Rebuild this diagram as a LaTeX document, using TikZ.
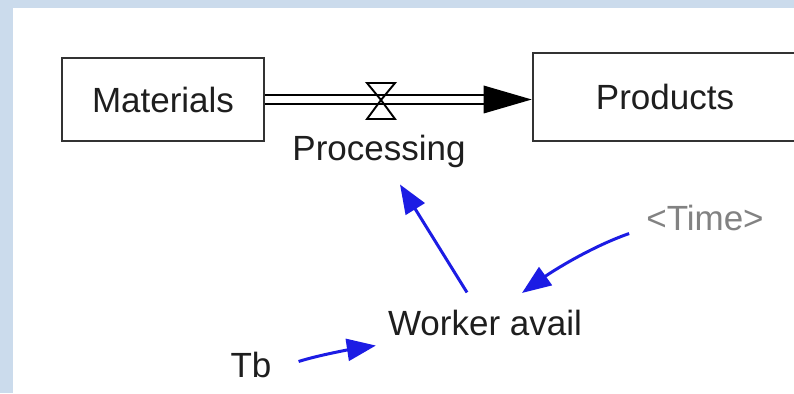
\documentclass[tikz,border=0pt]{standalone}
\usepackage{fontspec}
\setmainfont{Liberation Sans}
\usetikzlibrary{arrows.meta}
\definecolor{framefill}{RGB}{203,219,236}
\definecolor{ink}{RGB}{30,30,30}
\definecolor{boxline}{RGB}{50,50,50}
\definecolor{linkblue}{RGB}{28,28,228}
\definecolor{shadowvar}{RGB}{130,130,130}

\begin{document}
\begin{tikzpicture}[x=1pt,y=-1pt,
  every node/.style={font=\fontsize{35}{42}\selectfont, text=ink, inner sep=0pt},
  stock/.style={draw=boxline, line width=2.6pt, rectangle},
  pipe/.style={draw=black, line width=2pt, double=white, double distance=6.8pt},
  valveline/.style={draw=black, line width=1.9pt, line join=miter},
  link/.style={draw=linkblue, line width=3pt, -{Triangle[length=29pt,width=22pt]}},
]
% frame and canvas
\fill[framefill] (0,0) rectangle (794,393);
\fill[white] (13,8) rectangle (794,393);
\useasboundingbox (0,0) rectangle (794,393);

\begin{scope}
\clip (13,8) rectangle (794,393);
% stocks
\node[stock, minimum width=202pt, minimum height=83pt] (mat) at (163,99.5) {Materials};
\node[stock, minimum width=264pt, minimum height=88pt] (prod) at (665,97) {Products};

% flow pipe with valve
\coordinate (tip) at (prod.west |- mat.east);
\draw[pipe] (mat.east) -- ([xshift=-46pt]tip);
\fill[black] ([xshift=-48pt,yshift=-14pt]tip) -- (tip) -- ([xshift=-48pt,yshift=14pt]tip) -- cycle;
\coordinate (valve) at (381,100);
\draw[valveline] (valve) -- ++(-14,-17) -- ++(28,0) -- cycle;
\draw[valveline] (valve) -- ++(-14,19) -- ++(28,0) -- cycle;
\end{scope}

% variables
\node[anchor=base] (proc) at (379,160) {Processing};
\node[anchor=base] (work) at (485,335) {Worker avail};
\node[anchor=base, text=shadowvar] (time) at (705,230) {<Time>};
\node[anchor=base] (tb) at (251,377) {Tb};

% causal links
\draw[link] ([shift={(-18,-17)}]work.north) -- ([shift={(21,17)}]proc.south);
\draw[link] ([shift={(-17,3)}]time.south west) .. controls +(-40,14) and +(28,-20) .. ([shift={(37,-16.5)}]work.north);
\draw[link] ([shift={(27,-3)}]tb.east) .. controls +(22,-7) and +(-20,3) .. ([shift={(-12,10)}]work.south west);
\end{tikzpicture}
\end{document}
